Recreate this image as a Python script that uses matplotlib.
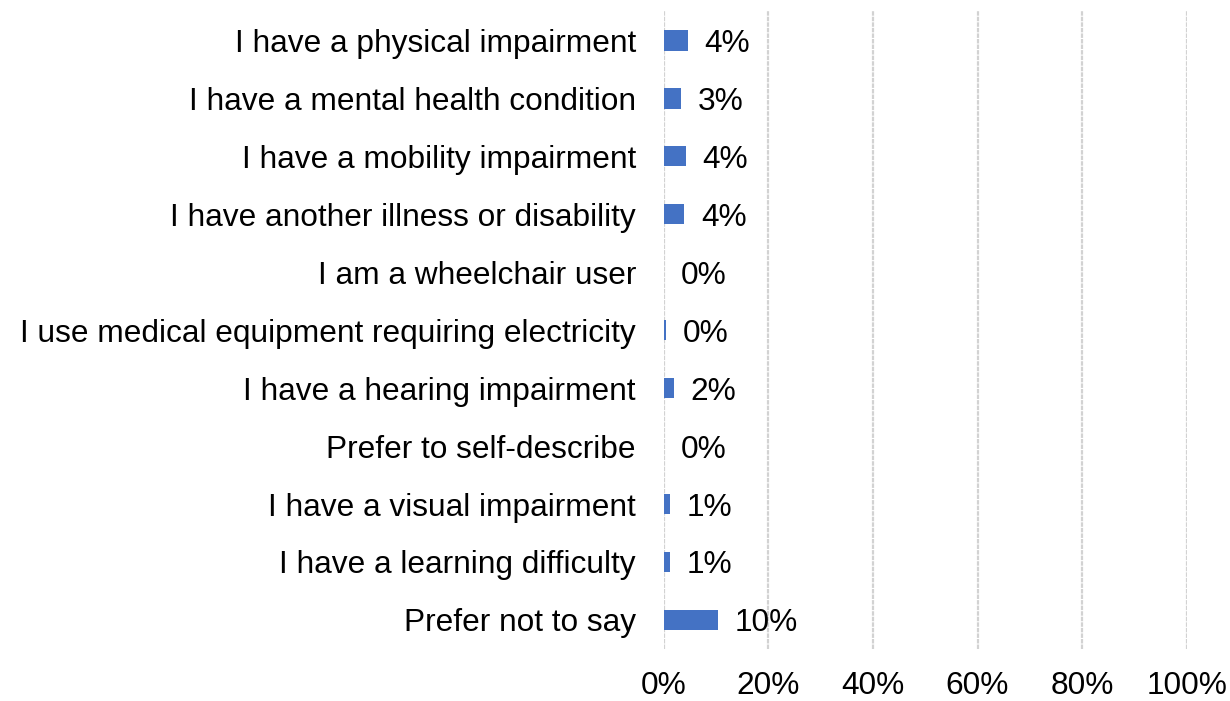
import matplotlib
matplotlib.use("Agg")
import matplotlib.pyplot as plt

# values (percent of respondents)
categories = [
    "I have a physical impairment",
    "I have a mental health condition",
    "I have a mobility impairment",
    "I have another illness or disability",
    "I am a wheelchair user",
    "I use medical equipment requiring electricity",
    "I have a hearing impairment",
    "Prefer to self-describe",
    "I have a visual impairment",
    "I have a learning difficulty",
    "Prefer not to say",
]
values = [4.6, 3.4, 4.2, 3.9, 0.0, 0.4, 1.9, 0.0, 1.2, 1.2, 10.3]
labels = ["4%", "3%", "4%", "4%", "0%", "0%", "2%", "0%", "1%", "1%", "10%"]
xticks = [0, 20, 40, 60, 80, 100]

plt.rcParams["font.family"] = ["Liberation Sans", "DejaVu Sans"]
FS = 22.8

fig = plt.figure(figsize=(12.30, 7.01), dpi=100)
ax = fig.add_axes([0.5396, 0.0742, 0.4252, 0.9100])

ypos = list(range(len(categories)))
ax.barh(ypos, values, height=0.36, color="#4472C4", zorder=3)

for y, v, lab in zip(ypos, values, labels):
    ax.annotate(lab, (v, y), xytext=(12, 0), textcoords="offset points",
                ha="left", va="center_baseline", fontsize=FS, color="#000000")

ax.set_xlim(0, 100)
ax.set_ylim(len(categories) - 0.5, -0.5)
ax.set_yticks(ypos)
ax.set_yticklabels(categories, fontsize=FS, va="center_baseline")
ax.set_xticks(xticks)
ax.set_xticklabels([f"{t}%" for t in xticks], fontsize=FS)
ax.tick_params(axis="both", length=0)
ax.tick_params(axis="y", pad=20)
ax.tick_params(axis="x", pad=16)

for s in ax.spines.values():
    s.set_visible(False)
ax.grid(axis="x", color="#d2d2d2", linewidth=1.6, linestyle=(0, (2, 0.5)), zorder=0)

fig.savefig("out.png", dpi=100)
